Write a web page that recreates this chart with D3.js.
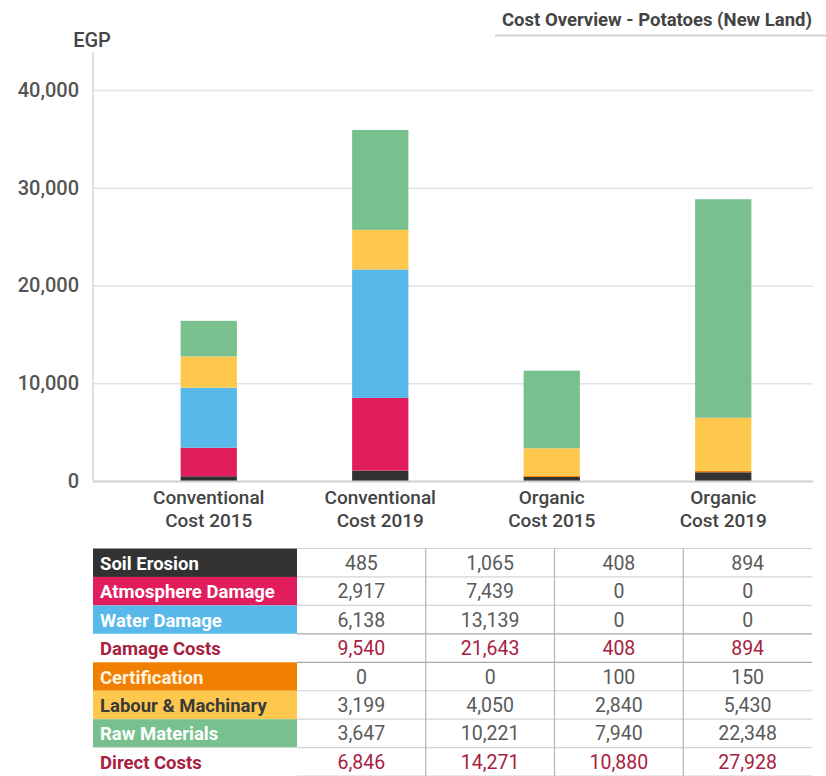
<!DOCTYPE html>
<html><head><meta charset="utf-8">
<script src="https://cdn.jsdelivr.net/npm/d3@7/dist/d3.min.js"></script>
<style>
body{margin:0;background:#fff;}
svg text{font-family:Roboto, "DejaVu Sans", sans-serif;}
</style>
</head><body>
<svg id="chart" width="826" height="776"></svg>
<script>
// ---- data ----
const categories = ["Conventional\nCost 2015", "Conventional\nCost 2019", "Organic\nCost 2015", "Organic\nCost 2019"];
const soilErosion      = [485, 1065, 408, 894];
const atmosphereDamage = [2917, 7439, 0, 0];
const waterDamage      = [6138, 13139, 0, 0];
const damageCosts      = [9540, 21643, 408, 894];
const certification    = [0, 0, 100, 150];
const labourMachinary  = [3199, 4050, 2840, 5430];
const rawMaterials     = [3647, 10221, 7940, 22348];
const directCosts      = [6846, 14271, 10880, 27928];
const yTicks = [0, 10000, 20000, 30000, 40000];
const title = "Cost Overview - Potatoes (New Land)";
const unitLabel = "EGP";

// ---- styles ----
const C = {
  soil: "#323232", atmo: "#e11d5c", water: "#57b8e9", cert: "#f17f00",
  labour: "#fec84e", raw: "#78c18f", red: "#a8213f", txt: "#4a4a4a"
};

const stackSeries = [
  {key: "soil", values: soilErosion, color: C.soil},
  {key: "atmo", values: atmosphereDamage, color: C.atmo},
  {key: "water", values: waterDamage, color: C.water},
  {key: "cert", values: certification, color: C.cert},
  {key: "labour", values: labourMachinary, color: C.labour},
  {key: "raw", values: rawMaterials, color: C.raw}
];

const tableRows = [
  {label: "Soil Erosion", values: soilErosion, bg: C.soil, fg: "#ffffff", vc: "#5a5a5a"},
  {label: "Atmosphere Damage", values: atmosphereDamage, bg: C.atmo, fg: "#ffffff", vc: "#5a5a5a"},
  {label: "Water Damage", values: waterDamage, bg: C.water, fg: "#ffffff", vc: "#5a5a5a"},
  {label: "Damage Costs", values: damageCosts, bg: "#ffffff", fg: C.red, vc: C.red},
  {label: "Certification", values: certification, bg: C.cert, fg: "#fff4e0", vc: "#5a5a5a"},
  {label: "Labour & Machinary", values: labourMachinary, bg: C.labour, fg: "#3a3a3a", vc: "#5a5a5a"},
  {label: "Raw Materials", values: rawMaterials, bg: C.raw, fg: "#ffffff", vc: "#5a5a5a"},
  {label: "Direct Costs", values: directCosts, bg: "#ffffff", fg: C.red, vc: C.red}
];

const svg = d3.select("#chart");
const axisX = 93, rightX = 813;
const y = d3.scaleLinear().domain([0, 40000]).range([481, 90]);
const x = d3.scaleBand().domain(categories).range([123, 809]).paddingInner(0.672).paddingOuter(0.336);
const fmt = d3.format(",");

// title
svg.append("text").attr("x", 812).attr("y", 26).attr("text-anchor", "end")
  .attr("font-size", 18.5).attr("font-weight", 700).attr("fill", "#444").text(title);
svg.append("line").attr("x1", 495).attr("x2", 826).attr("y1", 35.5).attr("y2", 35.5)
  .attr("stroke", "#cfcfcf").attr("stroke-width", 2);

// unit label
svg.append("text").attr("x", 92).attr("y", 47).attr("text-anchor", "middle")
  .attr("font-size", 20).attr("font-weight", 500).attr("fill", "#444").text(unitLabel);

// gridlines
const grid = svg.append("g").attr("transform", `translate(${axisX},0)`)
  .call(d3.axisLeft(y).tickValues(yTicks.filter(d => d > 0)).tickSize(-(rightX - axisX)).tickFormat(""));
grid.select(".domain").remove();
grid.selectAll("line").attr("stroke", "#e2e2e2").attr("stroke-width", 1.5);

// y axis labels
const yAxis = svg.append("g").attr("transform", `translate(${axisX},0)`)
  .call(d3.axisLeft(y).tickValues(yTicks).tickSize(0).tickPadding(14).tickFormat(fmt));
yAxis.select(".domain").remove();
yAxis.selectAll("text").attr("font-size", 20).attr("font-weight", 500).attr("fill", "#555")
  .style("font-family", "Roboto, sans-serif");

// vertical axis line
svg.append("line").attr("x1", axisX).attr("x2", axisX).attr("y1", 52).attr("y2", y(0))
  .attr("stroke", "#d6d6d6").attr("stroke-width", 1.5);

// stacked bars
const stackData = categories.map((c, i) => {
  const o = {cat: c};
  stackSeries.forEach(s => o[s.key] = s.values[i]);
  return o;
});
const stacked = d3.stack().keys(stackSeries.map(s => s.key))(stackData);
svg.append("g").selectAll("g").data(stacked).join("g")
  .attr("fill", (d, i) => stackSeries[i].color)
  .selectAll("rect").data(d => d).join("rect")
  .attr("x", d => x(d.data.cat))
  .attr("width", x.bandwidth())
  .attr("y", d => y(d[1]))
  .attr("height", d => Math.max(0, y(d[0]) - y(d[1])));

// baseline
svg.append("line").attr("x1", axisX).attr("x2", rightX).attr("y1", y(0) + 0.5).attr("y2", y(0) + 0.5)
  .attr("stroke", "#cfcfcf").attr("stroke-width", 2);

// x axis labels
const xAxis = svg.append("g").attr("transform", `translate(0,${y(0)})`)
  .call(d3.axisBottom(x).tickSize(0).tickFormat(""));
xAxis.select(".domain").remove();
xAxis.selectAll(".tick").each(function(d) {
  const t = d3.select(this).append("text").attr("text-anchor", "middle")
    .attr("font-size", 19).attr("font-weight", 500).attr("fill", "#444");
  d.split("\n").forEach((line, k) => {
    t.append("tspan").attr("x", 0).attr("y", 23 + k * 22.5).text(line);
  });
});

// table
const tableTop = 548.5, rowH = 28.45;
const labelX0 = 93, labelX1 = 297;
const colX = d3.scaleBand().domain(categories).range([297, 812]);
const rowY = d3.scaleBand().domain(d3.range(tableRows.length)).range([tableTop, tableTop + rowH * tableRows.length]);

const tg = svg.append("g");
tableRows.forEach((r, i) => {
  const yy = rowY(i);
  tg.append("rect").attr("x", labelX0).attr("y", yy).attr("width", labelX1 - labelX0).attr("height", rowY.bandwidth())
    .attr("fill", r.bg);
  tg.append("text").attr("x", labelX0 + 7).attr("y", yy + rowH / 2 + 7)
    .attr("font-size", 18.5).attr("font-weight", 700).attr("fill", r.fg).text(r.label);
  categories.forEach((c, j) => {
    tg.append("text").attr("x", colX(c) + colX.bandwidth() / 2).attr("y", yy + rowH / 2 + 7)
      .attr("text-anchor", "middle").attr("font-size", 19.5).attr("font-weight", 400)
      .attr("fill", r.vc).text(fmt(r.values[j]));
  });
});
// horizontal lines
d3.range(tableRows.length + 1).forEach(i => {
  const yy = i < tableRows.length ? rowY(i) : tableTop + rowH * tableRows.length;
  const dark = (i === 3 || i === 4);
  tg.append("line").attr("x1", labelX1).attr("x2", 812).attr("y1", yy).attr("y2", yy)
    .attr("stroke", dark ? "#a8a8a8" : "#d4d4d4").attr("stroke-width", 1.2);
});
// vertical lines
categories.forEach((c, j) => {
  if (j === 0) return;
  tg.append("line").attr("x1", colX(c)).attr("x2", colX(c)).attr("y1", tableTop).attr("y2", 776)
    .attr("stroke", "#b5b5b5").attr("stroke-width", 1.2);
});
</script>
</body></html>
